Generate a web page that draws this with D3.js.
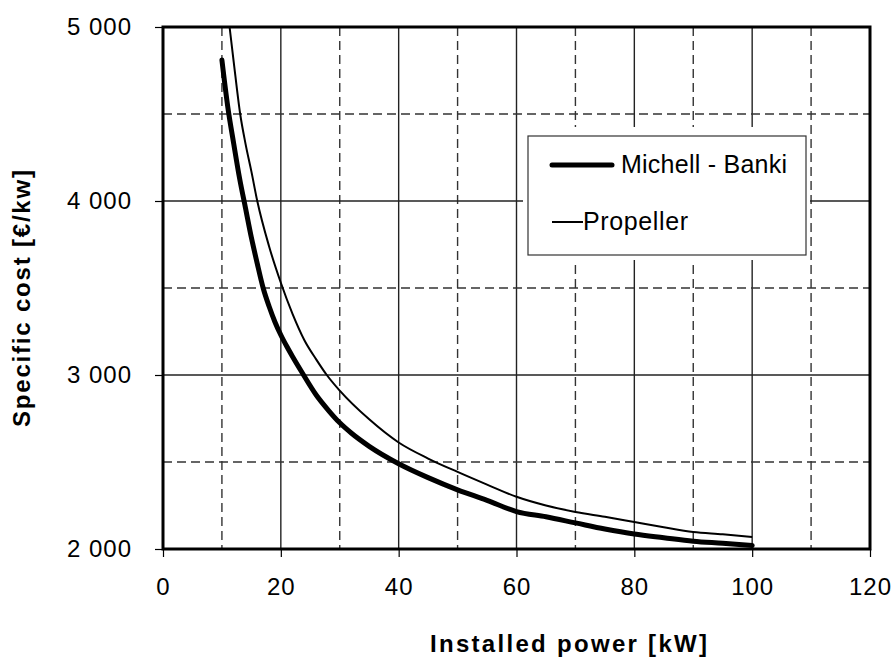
<!DOCTYPE html>
<html><head><meta charset="utf-8">
<script src="https://cdn.jsdelivr.net/npm/d3@7"></script>
<style>body{margin:0;background:#fff}svg{display:block}text{font-family:Arial,"Liberation Sans",sans-serif}</style>
</head><body><svg id="c" width="895" height="660"></svg>
<script>
const mbX = [10,11,12,13,14,15,16,17,18,19,20,21,22,23.5,26,28,30,32,35,40,45,50,55,60,65,70,75,80,85,90,95,100];
const mbY = [4810,4540,4330,4130,3960,3790,3640,3500,3395,3305,3230,3165,3105,3020,2885,2800,2725,2665,2590,2490,2410,2340,2280,2215,2185,2150,2115,2086,2065,2045,2033,2020];
const prX = [11.3,12,13.1,14,15,16,18,20,22,24,26,27.8,30,35,40,45,50,55,60,65,70,75,80,85,90,95,100];
const prY = [5000,4800,4500,4330,4170,4000,3740,3530,3350,3200,3090,3000,2910,2745,2612,2520,2443,2370,2300,2250,2213,2185,2155,2125,2098,2085,2069];
const xTicks = [0,20,40,60,80,100,120];
const xMinor = [10,30,50,70,90,110];
const yTicks = [2000,3000,4000,5000];
const yMinor = [2500,3500,4500];
const seriesNames = ["Michell - Banki","Propeller"];

const svg = d3.select("#c");
const L=163,R=870,T=27,B=549;
const x = d3.scaleLinear().domain([0,120]).range([L,R]);
const y = d3.scaleLinear().domain([2000,5000]).range([B,T]);
const fmt = v => d3.format(",")(v).replace(/,/g," ");

const g = svg.append("g");
g.selectAll(".vmaj").data(xTicks.slice(1,-1)).enter().append("line")
 .attr("x1",d=>x(d)).attr("x2",d=>x(d)).attr("y1",T).attr("y2",B)
 .attr("stroke","#222").attr("stroke-width",1.4);
g.selectAll(".vmin").data(xMinor).enter().append("line")
 .attr("x1",d=>x(d)).attr("x2",d=>x(d)).attr("y1",T).attr("y2",B)
 .attr("stroke","#333").attr("stroke-width",1.4).attr("stroke-dasharray","9,5");
g.selectAll(".hmaj").data(yTicks.slice(1,-1)).enter().append("line")
 .attr("y1",d=>y(d)).attr("y2",d=>y(d)).attr("x1",L).attr("x2",R)
 .attr("stroke","#222").attr("stroke-width",1.4);
g.selectAll(".hmin").data(yMinor).enter().append("line")
 .attr("y1",d=>y(d)).attr("y2",d=>y(d)).attr("x1",L).attr("x2",R)
 .attr("stroke","#333").attr("stroke-width",1.4).attr("stroke-dasharray","9,5");

svg.append("rect").attr("x",523).attr("y",127).attr("width",287).attr("height",133).attr("fill","#fff");
svg.append("rect").attr("x",528).attr("y",136).attr("width",278).attr("height",119)
 .attr("fill","#fff").attr("stroke","#333").attr("stroke-width",1.2);

const line = d3.line().x(d=>x(d[0])).y(d=>y(d[1])).curve(d3.curveMonotoneX);
svg.append("path").datum(prX.map((v,i)=>[v,prY[i]])).attr("d",line)
 .attr("fill","none").attr("stroke","#000").attr("stroke-width",2);
svg.append("path").datum(mbX.map((v,i)=>[v,mbY[i]])).attr("d",line)
 .attr("fill","none").attr("stroke","#000").attr("stroke-width",5).attr("stroke-linecap","round");

svg.append("rect").attr("x",L).attr("y",T).attr("width",R-L).attr("height",B-T)
 .attr("fill","none").attr("stroke","#000").attr("stroke-width",3);

const xa = svg.append("g").attr("transform",`translate(0,${B})`)
 .call(d3.axisBottom(x).tickValues(xTicks).tickSize(8).tickPadding(21).tickFormat(d3.format("d")));
const ya = svg.append("g").attr("transform",`translate(${L},0)`)
 .call(d3.axisLeft(y).tickValues(yTicks).tickSize(8).tickPadding(23).tickFormat(fmt));
[xa,ya].forEach(a=>{a.select(".domain").remove();
 a.selectAll("line").attr("stroke","#000").attr("stroke-width",1.2);
 a.selectAll("text").attr("font-size",24).attr("fill","#000").attr("letter-spacing",1)
  .attr("font-family","Arial, 'Liberation Sans', sans-serif");});

svg.append("text").attr("x",430).attr("y",652).attr("textLength",277).attr("lengthAdjust","spacing")
 .attr("font-size",24).attr("font-weight","bold").text("Installed power [kW]");
svg.append("text").attr("transform","translate(30,427) rotate(-90)").attr("textLength",257).attr("lengthAdjust","spacing")
 .attr("font-size",24).attr("font-weight","bold").text("Specific cost [€/kw]");

svg.append("line").attr("x1",552).attr("x2",612).attr("y1",165).attr("y2",165)
 .attr("stroke","#000").attr("stroke-width",5).attr("stroke-linecap","round");
svg.append("text").attr("x",621).attr("y",173).attr("font-size",25).attr("textLength",166).attr("lengthAdjust","spacing").text(seriesNames[0]);
svg.append("line").attr("x1",552).attr("x2",583).attr("y1",222).attr("y2",222)
 .attr("stroke","#000").attr("stroke-width",2);
svg.append("text").attr("x",583).attr("y",230).attr("font-size",25).attr("textLength",105).attr("lengthAdjust","spacing").text(seriesNames[1]);
</script></body></html>
